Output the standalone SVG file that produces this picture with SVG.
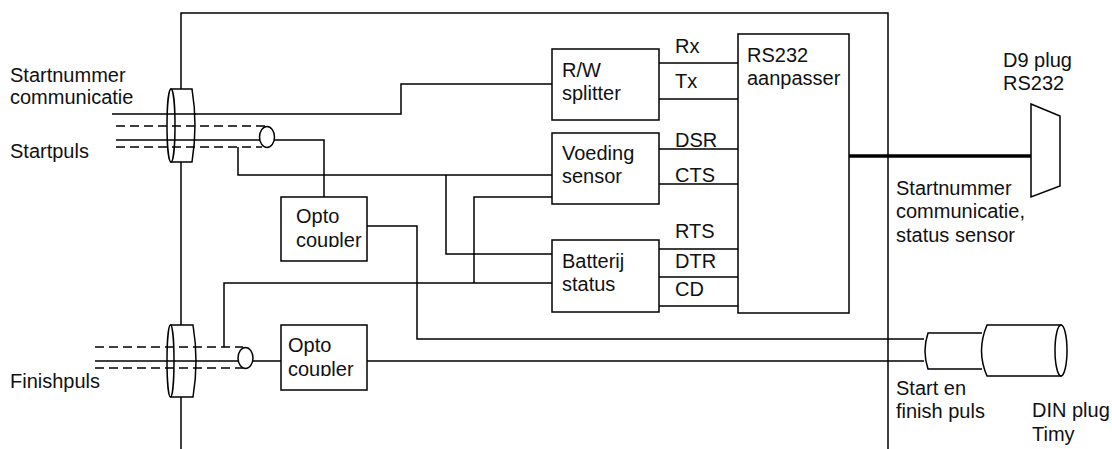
<svg xmlns="http://www.w3.org/2000/svg" width="1112" height="449" viewBox="0 0 1112 449">
<style>
text{font-family:"Liberation Sans",Arial,sans-serif;font-size:20px;fill:#111}
.l{fill:none;stroke:#000;stroke-width:1.5}
.b{fill:#fff;stroke:#000;stroke-width:1.5}
.d{fill:none;stroke:#000;stroke-width:1.5;stroke-dasharray:9 5}
</style>
<defs>
<clipPath id="c1"><rect x="282" y="198" width="84" height="49"/></clipPath>
<clipPath id="c2"><rect x="282" y="326" width="84" height="50"/></clipPath>
</defs>
<rect width="1112" height="449" fill="#fff"/>
<g id="frame"><path class="l" d="M181 449V13H888V449"/></g>
<g id="connectors">
<path class="l" d="M195 114H401V84H552"/>
<path class="l" d="M274 140H324V197"/>
<path class="l" d="M238 147V175H552"/>
<path class="l" d="M446 175V254H552"/>
<path class="l" d="M474 283V197H552"/>
<path class="l" d="M224 347V283H552"/>
<path class="l" d="M367 226H417V339H924"/>
<path class="l" d="M253 361H281M367 361H924"/>
<path class="l" d="M659 63H738M659 99H738M659 149H738M659 184H738M659 249H738M659 277H738M659 306H738"/>
<path d="M846 156H1031" fill="none" stroke="#000" stroke-width="3.5"/>
</g>
<g id="cable-start">
<path class="b" d="M171 89H192Q198 125 192 162H171Z"/>
<ellipse class="b" cx="171" cy="125.500" rx="4" ry="36.500"/>
<path class="l" d="M112 114H196M116 140H260"/>
<path class="d" d="M116 126H265M116 147H262"/>
<ellipse class="b" cx="267" cy="137" rx="7.500" ry="10.500"/>
</g>
<g id="cable-finish">
<path class="b" d="M171 325H193Q199 361 193 397H171Z"/>
<ellipse class="b" cx="170.500" cy="361" rx="3.500" ry="36"/>
<path class="l" d="M95 361H239"/>
<path class="d" d="M95 347H243M95 368H243"/>
<ellipse class="b" cx="245.500" cy="358" rx="7.500" ry="10.500"/>
</g>
<g id="rw-splitter"><rect class="b" x="552" y="49" width="107" height="71"/><text x="562" y="77">R/W</text><text x="562" y="100">splitter</text></g>
<g id="voeding-sensor"><rect class="b" x="552" y="133" width="107" height="71"/><text x="562" y="160">Voeding</text><text x="562" y="183">sensor</text></g>
<g id="batterij-status"><rect class="b" x="552" y="240" width="107" height="72"/><text x="562" y="268">Batterij</text><text x="562" y="291">status</text></g>
<g id="rs232-aanpasser"><rect class="b" x="738" y="34" width="111" height="279"/><text x="747" y="62">RS232</text><text x="747" y="85">aanpasser</text></g>
<g id="opto-1"><rect class="b" x="281" y="197" width="86" height="64"/><g clip-path="url(#c1)"><text x="296" y="223">Opto</text><text x="296" y="247">coupler</text></g></g>
<g id="opto-2"><rect class="b" x="281" y="325" width="86" height="65"/><g clip-path="url(#c2)"><text x="288" y="352">Opto</text><text x="288" y="376">coupler</text></g></g>
<g id="d9-plug"><path class="b" d="M1031 104L1060 116V186L1031 197Z"/></g>
<g id="din-plug">
<path class="b" d="M982 333H928Q922 351 928 369H982"/>
<path class="b" d="M1061 325H987Q976 351 987 376H1061Z"/>
<ellipse class="b" cx="1061" cy="350.500" rx="6" ry="25.500"/>
</g>
<g id="labels">
<text x="10" y="82">Startnummer</text><text x="10" y="104">communicatie</text><text x="10" y="158">Startpuls</text><text x="10" y="388">Finishpuls</text>
<text x="675" y="53">Rx</text><text x="675" y="88">Tx</text><text x="675" y="147">DSR</text><text x="675" y="182">CTS</text><text x="675" y="238">RTS</text><text x="675" y="268">DTR</text><text x="675" y="296">CD</text>
<text x="1003" y="67">D9 plug</text><text x="1003" y="90">RS232</text>
<text x="896" y="195">Startnummer</text><text x="896" y="218">communicatie,</text><text x="896" y="242">status sensor</text>
<text x="896" y="395">Start en</text><text x="896" y="418">finish puls</text>
<text x="1032" y="417">DIN plug</text><text x="1032" y="441">Timy</text>
</g>
</svg>
